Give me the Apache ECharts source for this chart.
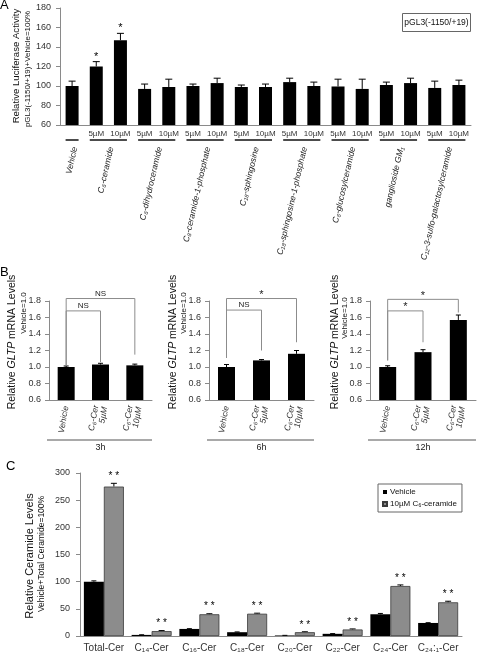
<!DOCTYPE html>
<html><head><meta charset="utf-8">
<script src="https://cdn.jsdelivr.net/npm/echarts@6/dist/echarts.min.js"></script>
<style>html,body{margin:0;padding:0;background:#fff}#c{width:477px;height:653px}</style>
</head><body><div id="c"></div>
<script>
// ---------------- Panel A data ----------------
const aCategories = ['Vehicle','C6cer-5','C6cer-10','C6dh-5','C6dh-10','C8c1p-5','C8c1p-10','C18sph-5','C18sph-10','C18s1p-5','C18s1p-10','C6glc-5','C6glc-10','GM1-5','GM1-10','C12sulf-5','C12sulf-10'];
const aDoseLabels = ['', '5µM','10µM','5µM','10µM','5µM','10µM','5µM','10µM','5µM','10µM','5µM','10µM','5µM','10µM','5µM','10µM'];
const aValues = [100, 120, 147, 97, 99, 100, 103, 99, 99, 104, 100, 99.5, 97, 101, 103, 98, 101];
const aErrTop = [105, 125, 154, 102, 107, 102, 108, 101, 102, 108, 104, 107, 107, 104, 108, 105, 106];
const aStars = ['', '*', '*', '', '', '', '', '', '', '', '', '', '', '', '', '', ''];
const aGroupLabels = ['Vehicle','C₆-ceramide','C₆-dihydroceramide','C₈-ceramide-1-phosphate','C₁₈-sphingosine','C₁₈-sphingosine-1-phosphate','C₆-glucosylceramide','ganglioside GM₁','C₁₂-3-sulfo-galactosylceramide'];
const aGroupStart = [0, 1, 3, 5, 7, 9, 11, 13, 15];
const aGroupEnd = [0, 2, 4, 6, 8, 10, 12, 14, 16];
const aYMin = 60, aYMax = 180, aYStep = 20;
const aLegendText = 'pGL3(-1150/+19)';

// ---------------- Panel B data ----------------
const bCategories = ['Vehicle', 'C₆-Cer\n5µM', 'C₆-Cer\n10µM'];
const bTimes = ['3h', '6h', '12h'];
const b3h = [1.00, 1.03, 1.02];
const b3hErr = [1.012, 1.045, 1.035];
const b6h = [1.00, 1.08, 1.16];
const b6hErr = [1.03, 1.09, 1.20];
const b12h = [1.00, 1.18, 1.57];
const b12hErr = [1.015, 1.21, 1.63];
// bracket: [fromIdx, toIdx, level, fromEnd, toEnd]
const b3hBrackets = [[0, 2, 1.83, 1.02, 1.15], [0, 1, 1.68, 1.02, 1.06]];
const b3hBracketLabels = ['NS', 'NS'];
const b6hBrackets = [[0, 2, 1.83, 1.11, 1.30], [0, 1, 1.69, 1.11, 1.20]];
const b6hBracketLabels = ['*', 'NS'];
const b12hBrackets = [[0, 2, 1.82, 1.08, 1.66], [0, 1, 1.68, 1.08, 1.30]];
const b12hBracketLabels = ['*', '*'];
const bYMin = 0.6, bYMax = 1.8, bYStep = 0.2;

// ---------------- Panel C data ----------------
const cCategories = ['Total-Cer','C₁₄-Cer','C₁₆-Cer','C₁₈-Cer','C₂₀-Cer','C₂₂-Cer','C₂₄-Cer','C₂₄:₁-Cer'];
const cSeriesNames = ['Vehicle', '10µM C₆-ceramide'];
const cVehicle = [100, 2, 13, 7, 1, 4, 40, 24];
const cVehicleErr = [101.5, 2.3, 13.5, 7.5, 1.2, 4.4, 41.5, 24.5];
const cCeramide = [275, 9, 40, 41, 7, 12, 92, 62];
const cCeramideErr = [281, 10, 41, 42, 7.8, 13, 94, 64];
const cStars = ['* *','* *','* *','* *','* *','* *','* *','* *'];
const cYMin = 0, cYMax = 300, cYStep = 50;

// ---------------- styling ----------------
const FONT = '"Liberation Sans", Arial, Helvetica, sans-serif';
const AX = '#8a8a8a';

function yAxisCfg(grid, min, max, step, fmt, margin) {
  return {
    type: 'value', gridIndex: grid, min: min, max: max, interval: step,
    axisLine: {show: true, lineStyle: {color: AX, width: 1}},
    axisTick: {show: true, length: 4, lineStyle: {color: AX}},
    splitLine: {show: false},
    axisLabel: {fontSize: 9, color: '#333', margin: margin, formatter: fmt}
  };
}

function errRender(capHalf, offsetPx, stars, starFont, starGap) {
  return function (params, api) {
    const x = api.value(0), top = api.value(1), base = api.value(2);
    const pt = api.coord([x, top]);
    const pb = api.coord([x, base]);
    const cx = pt[0] + offsetPx;
    const ch = [
      {type: 'line', shape: {x1: cx, y1: pb[1], x2: cx, y2: pt[1]}, style: {stroke: '#000', lineWidth: 1}},
      {type: 'line', shape: {x1: cx - capHalf, y1: pt[1], x2: cx + capHalf, y2: pt[1]}, style: {stroke: '#000', lineWidth: 1}}
    ];
    const s = stars ? stars[params.dataIndex] : '';
    if (s) {
      ch.push({type: 'text', x: cx, y: pt[1] - starGap,
        style: {text: s, align: 'center', verticalAlign: 'middle', textAlign: 'center', textVerticalAlign: 'middle', font: starFont, fill: '#000'}});
    }
    return {type: 'group', children: ch};
  };
}

function bracketRender(labels) {
  return function (params, api) {
    const f = api.value(0), t = api.value(1), lvl = api.value(2), fe = api.value(3), te = api.value(4);
    const a = api.coord([f, lvl]), b = api.coord([t, lvl]);
    const ae = api.coord([f, fe]), be = api.coord([t, te]);
    const lab = labels[params.dataIndex];
    const isStar = lab === '*';
    return {type: 'group', children: [
      {type: 'polyline', shape: {points: [[ae[0], ae[1]], [a[0], a[1]], [b[0], b[1]], [be[0], be[1]]]},
        style: {stroke: '#8c8c8c', lineWidth: 1, fill: null}},
      {type: 'text', x: (a[0] + b[0]) / 2, y: isStar ? a[1] + 2 : a[1] - 1,
        style: {text: lab, align: 'center', verticalAlign: 'bottom', textAlign: 'center', textVerticalAlign: 'bottom',
          font: (isStar ? '11px ' : '8px ') + FONT, fill: '#222'}}
    ]};
  };
}

function timeRender(label) {
  return function (params, api) {
    const cs = params.coordSys;
    const y = cs.y + cs.height + 40;
    return {type: 'group', children: [
      {type: 'line', shape: {x1: cs.x - 2, y1: y, x2: cs.x + cs.width, y2: y}, style: {stroke: '#555', lineWidth: 1.2}},
      {type: 'text', x: cs.x + cs.width / 2, y: y + 3,
        style: {text: label, align: 'center', verticalAlign: 'top', textAlign: 'center', textVerticalAlign: 'top', font: '9px ' + FONT, fill: '#222'}}
    ]};
  };
}

function groupRender(params, api) {
  const i = params.dataIndex;
  const ps = api.coord([api.value(0), aYMin]);
  const pe = api.coord([api.value(1), aYMin]);
  const half = 6.5;
  const y = ps[1] + 15;
  const cx = (ps[0] + pe[0]) / 2;
  return {type: 'group', children: [
    {type: 'line', shape: {x1: ps[0] - half, y1: y, x2: pe[0] + half, y2: y}, style: {stroke: '#111', lineWidth: 1.5}},
    {type: 'text', x: cx + 3, y: y + 7, rotation: 77 * Math.PI / 180,
      style: {text: aGroupLabels[i], align: 'right', verticalAlign: 'middle', textAlign: 'right', textVerticalAlign: 'middle',
        font: 'italic 8.5px ' + FONT, fill: '#222'}}
  ]};
}

const bGrids = [
  {left: 49, top: 301, width: 103, height: 99},
  {left: 209, top: 301, width: 105, height: 99},
  {left: 370, top: 301, width: 106, height: 99}
];
const bVals = [b3h, b6h, b12h];
const bErrs = [b3hErr, b6hErr, b12hErr];
const bBr = [b3hBrackets, b6hBrackets, b12hBrackets];
const bBrL = [b3hBracketLabels, b6hBracketLabels, b12hBracketLabels];

const grids = [
  {left: 60, top: 8, width: 411, height: 117},
  bGrids[0], bGrids[1], bGrids[2],
  {left: 80, top: 473, width: 382, height: 163}
];

const xAxes = [
  {type: 'category', gridIndex: 0, data: aCategories,
    axisLine: {lineStyle: {color: AX}}, axisTick: {show: false},
    axisLabel: {interval: 0, fontSize: 8, color: '#333', margin: 5, formatter: function (v, i) { return aDoseLabels[i]; }}}
];
for (let k = 0; k < 3; k++) {
  xAxes.push({type: 'category', gridIndex: k + 1, data: bCategories,
    axisLine: {lineStyle: {color: AX}}, axisTick: {show: false},
    axisLabel: {interval: 0, rotate: 80, fontStyle: 'italic', fontSize: 8.5, lineHeight: 9, color: '#333', margin: 6}});
}
xAxes.push({type: 'category', gridIndex: 4, data: cCategories,
  axisLine: {lineStyle: {color: AX}}, axisTick: {show: false},
  axisLabel: {interval: 0, fontSize: 10, color: '#333', margin: 7}});

const yAxes = [yAxisCfg(0, aYMin, aYMax, aYStep, null, 9)];
for (let k = 0; k < 3; k++) yAxes.push(yAxisCfg(k + 1, bYMin, bYMax, bYStep, function (v) { return v.toFixed(1); }, 8));
yAxes.push(yAxisCfg(4, cYMin, cYMax, cYStep, null, 10));

const series = [
  {type: 'bar', xAxisIndex: 0, yAxisIndex: 0, data: aValues, barWidth: 13, itemStyle: {color: '#000'}, silent: true},
  {type: 'custom', xAxisIndex: 0, yAxisIndex: 0, clip: false, silent: true,
    renderItem: errRender(3.5, 0, aStars, '11px ' + FONT, 5),
    data: aErrTop.map(function (t, i) { return [i, t, aValues[i]]; })},
  {type: 'custom', xAxisIndex: 0, yAxisIndex: 0, clip: false, silent: true,
    renderItem: groupRender,
    data: aGroupStart.map(function (s, i) { return [s, aGroupEnd[i]]; })}
];
for (let k = 0; k < 3; k++) {
  const vals = bVals[k], errs = bErrs[k];
  series.push({type: 'bar', xAxisIndex: k + 1, yAxisIndex: k + 1, data: vals, barWidth: 17, itemStyle: {color: '#000'}, silent: true});
  series.push({type: 'custom', xAxisIndex: k + 1, yAxisIndex: k + 1, clip: false, silent: true,
    renderItem: errRender(2.5, 0, null, '', 0),
    data: errs.map(function (t, i) { return [i, t, vals[i]]; })});
  series.push({type: 'custom', xAxisIndex: k + 1, yAxisIndex: k + 1, clip: false, silent: true,
    renderItem: bracketRender(bBrL[k]), data: bBr[k]});
  series.push({type: 'custom', xAxisIndex: k + 1, yAxisIndex: k + 1, clip: false, silent: true,
    renderItem: timeRender(bTimes[k]), data: [[1, 1]]});
}
series.push({name: cSeriesNames[0], type: 'bar', xAxisIndex: 4, yAxisIndex: 4, data: cVehicle, barWidth: 20, barGap: '0%',
  itemStyle: {color: '#000'}, silent: true});
series.push({name: cSeriesNames[1], type: 'bar', xAxisIndex: 4, yAxisIndex: 4, data: cCeramide, barWidth: 20, barGap: '0%',
  itemStyle: {color: '#8c8c8c', borderColor: '#3a3a3a', borderWidth: 0.8}, silent: true});
series.push({type: 'custom', xAxisIndex: 4, yAxisIndex: 4, clip: false, silent: true,
  renderItem: errRender(2.5, -10, null, '', 0),
  data: cVehicleErr.map(function (t, i) { return [i, t, cVehicle[i]]; })});
series.push({type: 'custom', xAxisIndex: 4, yAxisIndex: 4, clip: false, silent: true,
  renderItem: errRender(3, 10, cStars, '10px ' + FONT, 7),
  data: cCeramideErr.map(function (t, i) { return [i, t, cCeramide[i]]; })});

function vtext(x, y, text, font, rich) {
  const st = {text: text, align: 'center', verticalAlign: 'middle', textAlign: 'center', textVerticalAlign: 'middle', font: font, fill: '#111'};
  if (rich) st.rich = rich;
  return {type: 'text', x: x, y: y, rotation: Math.PI / 2, style: st, silent: true};
}
const gltpRich = {
  n: {fontSize: 10.5, fontFamily: FONT, fill: '#111', color: '#111'},
  i: {fontSize: 10.5, fontFamily: FONT, fontStyle: 'italic', fill: '#111', color: '#111'}
};
const gltpTitle = '{n|Relative }{i|GLTP}{n| mRNA Levels}';

const graphics = [
  {type: 'text', x: 0, y: -1, style: {text: 'A', font: '13px ' + FONT, fill: '#000'}},
  {type: 'text', x: 0, y: 266, style: {text: 'B', font: '13px ' + FONT, fill: '#000'}},
  {type: 'text', x: 6, y: 460, style: {text: 'C', font: '13px ' + FONT, fill: '#000'}},
  vtext(16, 66, 'Relative Luciferase Activity', '9.6px ' + FONT),
  vtext(28, 69, 'pGL3(-1150/+19)+Vehicle=100%', '8px ' + FONT),
  vtext(12, 342, gltpTitle, '10.5px ' + FONT, gltpRich),
  vtext(24, 313, 'Vehicle=1.0', '8px ' + FONT),
  vtext(173, 342, gltpTitle, '10.5px ' + FONT, gltpRich),
  vtext(184, 313, 'Vehicle=1.0', '8px ' + FONT),
  vtext(335, 342, gltpTitle, '10.5px ' + FONT, gltpRich),
  vtext(345, 318, 'Vehicle=1.0', '8px ' + FONT),
  vtext(30, 556, 'Relative Ceramide Levels', '11px ' + FONT),
  vtext(42, 554, 'Vehicle+Total Ceramide=100%', '8.5px ' + FONT),
  {type: 'rect', shape: {x: 402.5, y: 13.5, width: 68, height: 18}, style: {fill: '#fff', stroke: '#666', lineWidth: 1}},
  {type: 'text', x: 436.5, y: 22.5, style: {text: aLegendText, align: 'center', verticalAlign: 'middle', textAlign: 'center', textVerticalAlign: 'middle', font: '8.5px ' + FONT, fill: '#111'}}
];

const chart = echarts.init(document.getElementById('c'), null, {renderer: 'canvas'});
chart.setOption({
  animation: false,
  backgroundColor: '#fff',
  textStyle: {fontFamily: FONT},
  grid: grids,
  xAxis: xAxes,
  yAxis: yAxes,
  legend: {
    data: cSeriesNames, orient: 'vertical', left: 378, top: 484,
    itemWidth: 4, itemHeight: 4, itemGap: 4, padding: [4, 5, 4, 4],
    borderColor: '#666', borderWidth: 1, icon: 'rect',
    textStyle: {fontSize: 8, color: '#111', padding: [0, 0, 0, -2]}
  },
  series: series,
  graphic: graphics
});
</script></body></html>
